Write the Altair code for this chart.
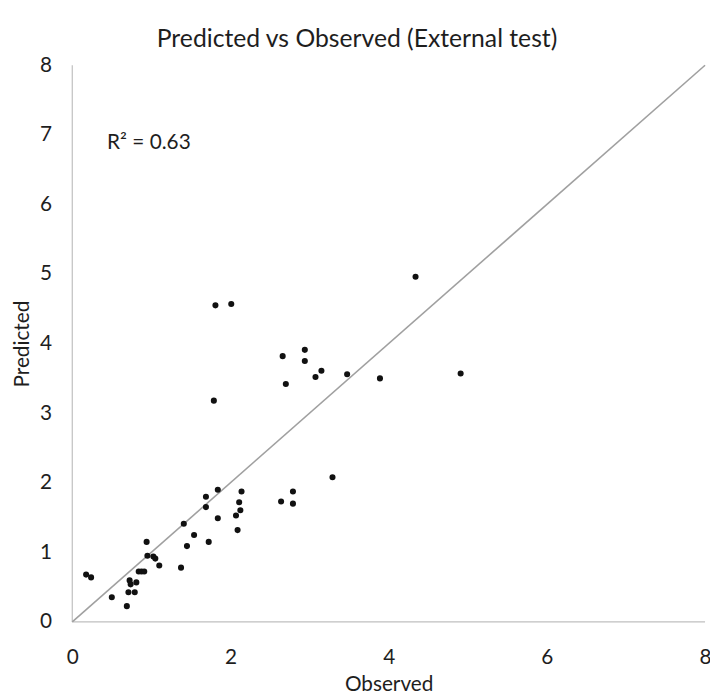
import altair as alt
import pandas as pd

observed = [0.175, 0.238, 0.50, 0.69, 0.71, 0.79, 0.725, 0.738, 0.81, 0.84, 0.875, 0.91,
            0.94, 0.95, 1.025, 1.05, 1.10, 1.375, 1.41, 1.45, 1.54, 1.69, 1.69, 1.725,
            1.84, 1.84, 2.07, 2.09, 2.11, 2.125, 2.14, 1.79, 1.81, 2.01, 2.64, 2.79,
            2.79, 2.66, 2.70, 2.94, 2.94, 3.075, 3.15, 3.29, 3.475, 3.89, 4.34, 4.91]
predicted = [0.68, 0.64, 0.355, 0.227, 0.426, 0.426, 0.597, 0.54, 0.568, 0.724, 0.724, 0.724,
             1.15, 0.95, 0.94, 0.91, 0.81, 0.78, 1.41, 1.09, 1.25, 1.80, 1.65, 1.15,
             1.49, 1.90, 1.53, 1.32, 1.72, 1.605, 1.875, 3.18, 4.55, 4.57, 1.73, 1.875,
             1.70, 3.82, 3.42, 3.91, 3.75, 3.52, 3.61, 2.08, 3.56, 3.50, 4.96, 3.57]

line_x = [0, 8]
line_y = [0, 8]

r2_text = ["R² = 0.63"]
r2_x = [0.44]
r2_y = [6.88]

FONT = "Lato"
TXT = "#1e1e1e"

pts = pd.DataFrame({"Observed": observed, "Predicted": predicted})
ln = pd.DataFrame({"Observed": line_x, "Predicted": line_y})
lab = pd.DataFrame({"t": r2_text, "x": r2_x, "y": r2_y})

xscale = alt.Scale(domain=[0, 8], nice=False)
yscale = alt.Scale(domain=[0, 8], nice=False)

xaxis = alt.Axis(values=[0, 2, 4, 6, 8], format="d", grid=False, ticks=False, domain=False,
                 labelPadding=25, labelFontSize=21, labelColor=TXT, labelFont=FONT,
                 title="Observed", titleFontSize=21, titleFont=FONT, titleFontWeight="normal",
                 titleColor=TXT, titlePadding=6, labelFlush=False)
yaxis = alt.Axis(values=[0, 1, 2, 3, 4, 5, 6, 7, 8], format="d", grid=False, ticks=False, domain=False,
                 labelPadding=21, labelFontSize=21, labelColor=TXT, labelFont=FONT,
                 title="Predicted", titleFontSize=21, titleFont=FONT, titleFontWeight="normal",
                 titleColor=TXT, titlePadding=7, labelFlush=False)

axes_lines = alt.Chart(pd.DataFrame({"x": [0, 0], "y": [0, 8], "x2": [8, 0], "y2": [0, 0]})).mark_rule(
    color="#bfbfbf", strokeWidth=1.2
).encode(
    x=alt.X("x:Q", scale=xscale, axis=xaxis),
    y=alt.Y("y2:Q", scale=yscale, axis=yaxis),
    x2="x2:Q",
    y2="y:Q",
)

diag = alt.Chart(ln).mark_line(color="#a0a0a0", strokeWidth=1.6).encode(
    x=alt.X("Observed:Q", scale=xscale),
    y=alt.Y("Predicted:Q", scale=yscale),
)

scatter = alt.Chart(pts).mark_circle(color="#111111", opacity=1, size=38).encode(
    x=alt.X("Observed:Q", scale=xscale),
    y=alt.Y("Predicted:Q", scale=yscale),
)

text = alt.Chart(lab).mark_text(align="left", baseline="middle", fontSize=21, font=FONT,
                                color=TXT).encode(
    x=alt.X("x:Q", scale=xscale),
    y=alt.Y("y:Q", scale=yscale),
    text="t:N",
)

chart = alt.layer(axes_lines, diag, scatter, text).properties(
    width=640,
    height=563,
    autosize=alt.AutoSizeParams(type="none"),
    padding={"left": 65, "top": 54, "right": 5, "bottom": 72},
    title=alt.TitleParams("Predicted vs Observed (External test)", fontSize=25, font=FONT,
                          fontWeight="normal", color=TXT, anchor="middle", dx=-32, offset=2),
).configure_view(stroke=None)

chart.save("out.html", embed_options={"renderer": "svg", "actions": False})
